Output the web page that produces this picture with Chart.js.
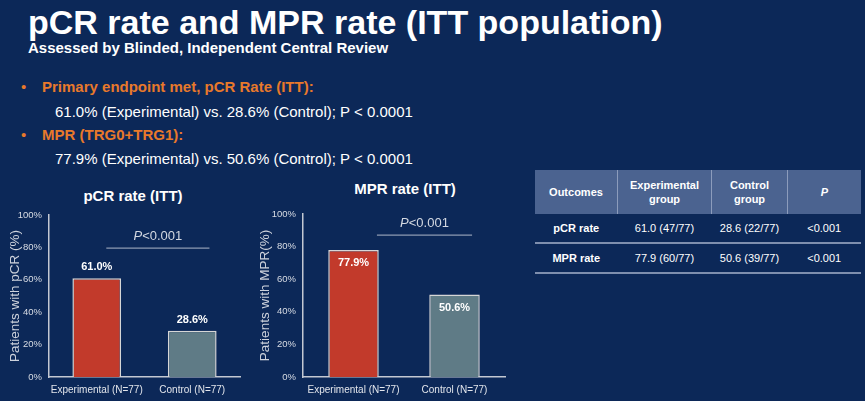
<!DOCTYPE html>
<html>
<head>
<meta charset="utf-8">
<script src="https://cdn.jsdelivr.net/npm/chart.js@4.4.1/dist/chart.umd.min.js"></script>
<style>
  html, body { margin:0; padding:0; }
  body { width:865px; height:401px; background:#0c2858; position:relative; overflow:hidden;
         font-family:"Liberation Sans", Arial, sans-serif; color:#fff; }
  .abs { position:absolute; white-space:nowrap; line-height:1; }
  #title { left:28px; top:5px; font-size:34px; font-weight:bold; }
  #subtitle { left:28px; top:40px; font-size:15px; font-weight:bold; }
  .bullet { font-size:15px; font-weight:bold; color:#e8792b; }
  .bdot { position:absolute; left:21px; font-size:15px; color:#e8792b; line-height:1; }
  .sub { font-size:15px; color:#fff; }
  .ctitle { font-size:15px; font-weight:bold; transform:translateX(-50%); }
  canvas { position:absolute; }
  #tbl { position:absolute; left:535px; top:170px; border-collapse:collapse; font-size:11px; }
  #tbl th { background:#4b6390; color:#fff; font-weight:bold; height:44px; padding:0; text-align:center; line-height:1.3;
            border-left:1px solid #8c9cbc; }
  #tbl th:first-child { border-left:none; }
  #tbl td { height:28px; padding:0; text-align:center; border-bottom:2px solid #7f8fae; color:#fff; }
  #tbl td:first-child { font-weight:bold; }
</style>
</head>
<body>
<div id="title" class="abs">pCR rate and MPR rate (ITT population)</div>
<div id="subtitle" class="abs">Assessed by Blinded, Independent Central Review</div>

<div class="bdot" style="top:79px">•</div>
<div class="abs bullet" style="left:42px; top:79px">Primary endpoint met, pCR Rate (ITT):</div>
<div class="abs sub" style="left:55px; top:104px">61.0% (Experimental) vs. 28.6% (Control); P &lt; 0.0001</div>
<div class="bdot" style="top:127px">•</div>
<div class="abs bullet" style="left:42px; top:127px">MPR (TRG0+TRG1):</div>
<div class="abs sub" style="left:55px; top:151px">77.9% (Experimental) vs. 50.6% (Control); P &lt; 0.0001</div>

<div class="abs ctitle" style="left:133px; top:188px">pCR rate (ITT)</div>
<div class="abs ctitle" style="left:405px; top:181px">MPR rate (ITT)</div>

<canvas id="c1" style="left:0px; top:180px;"></canvas>
<canvas id="c2" style="left:250px; top:170px;"></canvas>

<table id="tbl"></table>

<script>
// ---- data ----
const categories = ["Experimental (N=77)", "Control (N=77)"];
const pcrValues = [61.0, 28.6];
const mprValues = [77.9, 50.6];
const yTicks = [0, 20, 40, 60, 80, 100];
const pLabel = "P<0.001";
const tableHeaders = ["Outcomes", "Experimental<br>group", "Control<br>group", "<i>P</i>"];
const tableRowLabels = ["pCR rate", "MPR rate"];
const tableExperimental = ["61.0 (47/77)", "77.9 (60/77)"];
const tableControl = ["28.6 (22/77)", "50.6 (39/77)"];
const tableP = ["<0.001", "<0.001"];

// ---- table ----
(function () {
  const t = document.getElementById('tbl');
  const widths = [82, 93, 75, 73];
  let html = '<tr>' + tableHeaders.map((h, i) => `<th style="width:${widths[i]}px">${h}</th>`).join('') + '</tr>';
  tableRowLabels.forEach((r, i) => {
    const esc = s => s.replace(/</g, '&lt;');
    html += `<tr><td>${r}</td><td>${tableExperimental[i]}</td><td>${tableControl[i]}</td><td>${esc(tableP[i])}</td></tr>`;
  });
  t.innerHTML = html;
})();

// ---- charts ----
const FONT = "'Liberation Sans', Arial, sans-serif";
const barColors = ['#c23a2b', '#5f7b86'];

const annot = {
  id: 'annot',
  afterDatasetsDraw(chart, args, opts) {
    const ctx = chart.ctx;
    const ys = chart.scales.y;
    const ca = chart.chartArea;
    const meta = chart.getDatasetMeta(0);
    ctx.save();
    // value labels
    ctx.font = "bold 11px " + FONT;
    ctx.fillStyle = '#ffffff';
    ctx.textAlign = 'center';
    ctx.textBaseline = 'middle';
    meta.data.forEach((bar, i) => {
      const v = chart.data.datasets[0].data[i];
      const y = opts.inside ? bar.y + 13 : bar.y - 11;
      ctx.fillText(v.toFixed(1) + '%', bar.x, y);
    });
    // p-value line
    const x0 = ca.left + (ca.right - ca.left) * opts.lineFrom;
    const x1 = ca.left + (ca.right - ca.left) * opts.lineTo;
    const ly = ys.getPixelForValue(opts.lineAt);
    ctx.strokeStyle = '#8d9ab2';
    ctx.lineWidth = 1.2;
    ctx.beginPath(); ctx.moveTo(x0, ly); ctx.lineTo(x1, ly); ctx.stroke();
    // p text
    const ty = ys.getPixelForValue(opts.textAt);
    ctx.fillStyle = '#d4d9e2';
    ctx.font = "italic 13px " + FONT;
    const pW = ctx.measureText(pLabel[0]).width;
    ctx.font = "13px " + FONT;
    const restW = ctx.measureText(pLabel.slice(1)).width;
    const cx = (x0 + x1) / 2;
    const sx = cx - (pW + restW) / 2;
    ctx.textAlign = 'left';
    ctx.font = "italic 13px " + FONT;
    ctx.fillText(pLabel[0], sx, ty);
    ctx.font = "13px " + FONT;
    ctx.fillText(pLabel.slice(1), sx + pW, ty);
    ctx.restore();
  }
};

function makeChart(id, w, h, values, yTitle, opt) {
  const cv = document.getElementById(id);
  cv.width = w; cv.height = h;
  cv.style.width = w + 'px'; cv.style.height = h + 'px';
  return new Chart(cv, {
    type: 'bar',
    data: {
      labels: categories,
      datasets: [{
        data: values,
        backgroundColor: barColors,
        borderColor: '#d6d6d6',
        borderWidth: 1.5,
        borderSkipped: 'bottom',
        categoryPercentage: 1,
        barPercentage: opt.barPct
      }]
    },
    options: {
      responsive: false,
      animation: false,
      devicePixelRatio: 1,
      layout: { padding: { top: opt.padTop, right: opt.padRight, left: 0, bottom: 0 } },
      plugins: {
        legend: { display: false },
        tooltip: { enabled: false },
        annot: opt.annot
      },
      scales: {
        y: {
          min: 0, max: 100,
          afterBuildTicks: s => { s.ticks = yTicks.map(v => ({ value: v })); },
          afterFit: s => { s.width = opt.yWidth; },
          grid: { display: false, drawTicks: false },
          border: { display: true, color: '#c3c8d2', width: 1.5 },
          ticks: { color: '#d8dce4', font: { size: 9.5, family: FONT }, padding: 7, callback: v => v + '%' },
          title: { display: true, text: yTitle, color: '#cdd2dc', font: { size: 13.5, family: FONT }, padding: { top: 7, bottom: 0 } }
        },
        x: {
          afterFit: s => { s.height = opt.xHeight; },
          grid: { display: false, drawTicks: false },
          border: { display: true, color: '#c3c8d2', width: 1.5 },
          ticks: { color: '#e2e5eb', font: { size: 10, family: FONT }, padding: 7, maxRotation: 0, autoSkip: false }
        }
      }
    },
    plugins: [annot]
  });
}

makeChart('c1', 250, 221, pcrValues, 'Patients with pCR (%)', {
  padTop: 35, padRight: 10, yWidth: 49, xHeight: 24, barPct: 0.51,
  annot: { inside: false, lineFrom: 0.30, lineTo: 0.84, lineAt: 79.6, textAt: 86.5 }
});
makeChart('c2', 260, 231, mprValues, 'Patients with MPR(%)', {
  padTop: 44, padRight: 5, yWidth: 53, xHeight: 24, barPct: 0.5,
  annot: { inside: true, lineFrom: 0.366, lineTo: 0.837, lineAt: 87.1, textAt: 94.5 }
});
</script>
</body>
</html>
